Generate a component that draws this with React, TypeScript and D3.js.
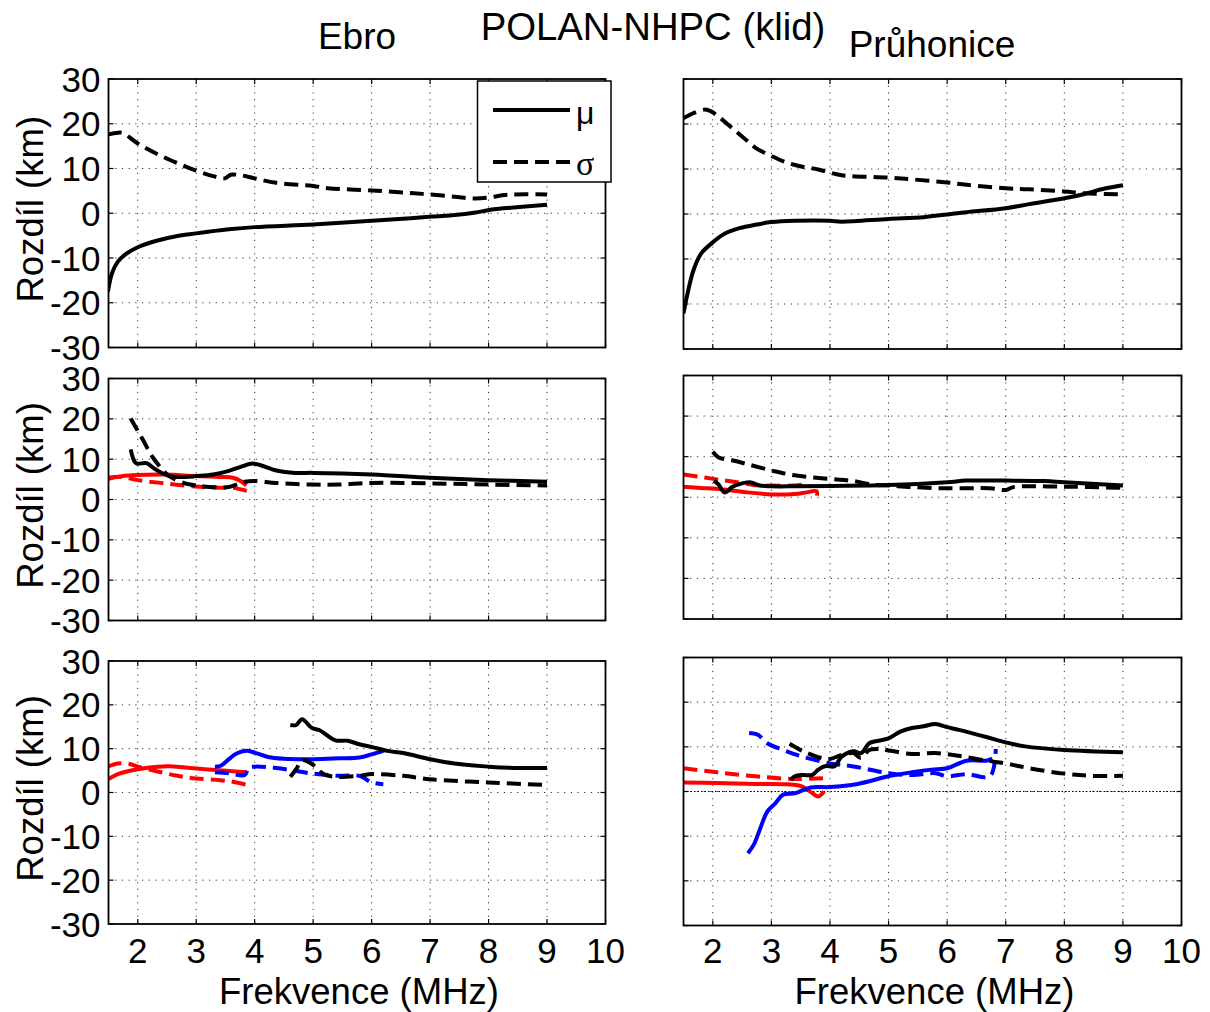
import React from 'react';
import * as d3 from 'd3';

type P = [number, number];

const X_TICKS = [2, 3, 4, 5, 6, 7, 8, 9, 10];
const Y_TICKS = [-30, -20, -10, 0, 10, 20, 30];
const X_DOMAIN: [number, number] = [1.5, 10];
const Y_DOMAIN: [number, number] = [-30, 30];

const TITLE = 'POLAN-NHPC (klid)';
const COL_TITLES = ['Ebro', 'Průhonice'];
const X_LABEL = 'Frekvence (MHz)';
const Y_LABEL = 'Rozdíl (km)';
const LEGEND_LABELS = ['μ', 'σ'];

// ---- Top row ----
const ebroTopMu: P[] = [[1.49, -17.5], [1.56, -13.4], [1.66, -10.8], [1.8, -9.1], [2.0, -7.6], [2.34, -6.1], [2.68, -5.1], [3.0, -4.5], [3.56, -3.6], [4.0, -3.1], [5.0, -2.5], [6.0, -1.7], [6.67, -1.1], [7.08, -0.7], [7.42, -0.4], [7.75, 0.1], [8.09, 0.9], [8.43, 1.3], [9.0, 1.9]];
const ebroTopSigma: P[] = [[1.49, 17.6], [1.66, 18.0], [1.75, 17.9], [2.0, 15.6], [2.34, 13.2], [2.68, 11.2], [3.0, 9.5], [3.29, 8.3], [3.49, 7.8], [3.59, 8.6], [3.76, 8.5], [4.0, 7.8], [4.37, 6.8], [5.0, 6.1], [5.25, 5.6], [6.0, 5.1], [6.67, 4.5], [7.0, 4.2], [7.42, 3.7], [7.75, 3.3], [8.0, 3.5], [8.23, 4.0], [8.43, 4.2], [9.0, 4.2]];
const pruTopMu: P[] = [[1.5, -22.1], [1.57, -17.6], [1.67, -12.5], [1.8, -8.8], [2.0, -6.3], [2.2, -4.4], [2.47, -3.1], [2.73, -2.4], [3.0, -1.8], [3.4, -1.5], [4.0, -1.5], [4.2, -1.7], [5.0, -1.1], [5.6, -0.7], [6.0, -0.1], [6.33, 0.4], [7.0, 1.3], [7.4, 2.2], [8.0, 3.5], [8.33, 4.4], [8.67, 5.6], [9.0, 6.4]];
const pruTopSigma: P[] = [[1.5, 21.3], [1.67, 22.4], [1.87, 23.2], [1.97, 22.8], [2.13, 21.3], [2.33, 19.1], [2.53, 16.9], [2.73, 14.7], [3.0, 12.9], [3.27, 11.4], [3.53, 10.5], [3.8, 9.9], [4.0, 9.2], [4.2, 8.6], [5.0, 8.1], [5.4, 7.7], [6.0, 7.0], [6.33, 6.5], [7.0, 5.7], [7.4, 5.5], [8.0, 5.0], [8.33, 4.6], [9.0, 4.4]];

// ---- Middle row ----
const ebroMidMuBlack: P[] = [[1.88, 12.4], [1.97, 9.0], [2.15, 9.0], [2.3, 7.5], [2.54, 5.8], [2.81, 5.6], [3.0, 5.8], [3.29, 6.2], [3.56, 7.1], [3.76, 8.1], [3.97, 8.9], [4.1, 8.5], [4.37, 7.2], [4.7, 6.6], [5.0, 6.6], [6.0, 6.2], [7.0, 5.4], [8.0, 4.8], [9.0, 4.4]];
const ebroMidSigmaBlack: P[] = [[1.88, 20.1], [1.97, 17.8], [2.1, 14.5], [2.24, 10.8], [2.37, 8.3], [2.54, 5.8], [2.81, 4.0], [3.0, 3.5], [3.22, 3.1], [3.56, 3.1], [3.69, 3.7], [3.83, 4.4], [4.0, 4.6], [4.37, 4.1], [5.0, 3.7], [5.45, 3.7], [6.0, 4.1], [7.0, 4.0], [8.0, 3.7], [9.0, 3.5]];
const ebroMidMuRed: P[] = [[1.49, 5.1], [1.73, 5.8], [2.0, 6.1], [2.47, 6.2], [3.0, 5.8], [3.42, 5.6], [3.63, 5.4], [3.76, 4.6], [3.86, 3.5]];
const ebroMidSigmaRed: P[] = [[1.49, 5.4], [1.73, 5.6], [2.0, 4.8], [2.47, 4.0], [3.0, 3.2], [3.42, 2.9], [3.63, 2.9], [3.76, 2.5], [3.88, 2.1]];
const pruMidMuBlack: P[] = [[2.02, 4.1], [2.1, 3.1], [2.2, 1.2], [2.33, 2.5], [2.47, 3.3], [2.63, 3.7], [2.8, 2.9], [3.0, 2.7], [3.4, 2.7], [4.0, 2.8], [5.0, 3.0], [6.0, 3.7], [6.33, 4.1], [7.0, 4.1], [7.67, 4.0], [8.0, 3.7], [9.0, 2.9]];
const pruMidSigmaBlack: P[] = [[2.0, 11.2], [2.1, 9.8], [2.33, 9.1], [2.6, 8.1], [3.0, 6.6], [3.4, 5.4], [4.0, 4.5], [4.4, 4.0], [4.73, 3.1], [5.0, 2.9], [5.4, 2.5], [6.0, 2.2], [6.73, 2.2], [7.0, 1.8], [7.13, 2.5], [8.0, 2.6], [9.0, 2.3]];
const pruMidMuRed: P[] = [[1.5, 2.6], [1.8, 2.3], [2.07, 2.1], [2.6, 1.2], [3.0, 0.7], [3.4, 0.8], [3.6, 1.2], [3.77, 1.5], [3.78, 0.4]];
const pruMidSigmaRed: P[] = [[1.5, 5.6], [1.8, 5.0], [2.07, 4.4], [2.33, 3.9], [2.67, 3.1], [2.87, 2.9], [3.4, 2.9], [3.53, 3.1]];

// ---- Bottom row ----
const ebroBotMuRed: P[] = [[1.49, 3.0], [1.66, 4.2], [2.0, 5.3], [2.34, 5.9], [2.54, 6.0], [2.81, 5.7], [3.15, 5.3], [3.56, 4.9], [3.86, 4.6]];
const ebroBotSigmaRed: P[] = [[1.49, 5.9], [1.66, 6.6], [1.86, 6.5], [2.0, 5.9], [2.34, 4.8], [2.68, 3.8], [3.0, 3.2], [3.42, 2.8], [3.69, 2.3], [3.88, 1.7]];
const ebroBotMuBlue: P[] = [[3.32, 5.9], [3.42, 6.1], [3.56, 7.6], [3.69, 8.9], [3.86, 9.5], [4.0, 9.1], [4.23, 8.1], [4.5, 7.7], [5.0, 7.6], [5.45, 7.8], [5.79, 8.0], [6.0, 8.7], [6.2, 9.5]];
const ebroBotSigmaBlue: P[] = [[3.32, 4.6], [3.56, 4.4], [3.83, 4.0], [3.9, 5.7], [4.0, 5.9], [4.37, 5.6], [5.0, 4.3], [5.45, 3.8], [5.79, 3.8], [6.0, 2.3], [6.2, 1.9]];
const ebroBotMuBlack: P[] = [[4.61, 15.4], [4.71, 15.4], [4.81, 16.7], [4.98, 14.7], [5.11, 14.2], [5.38, 11.9], [5.59, 11.8], [5.79, 11.0], [6.0, 10.4], [6.27, 9.5], [6.54, 9.0], [7.0, 7.6], [7.42, 6.6], [8.0, 5.9], [8.43, 5.6], [9.0, 5.6]];
const ebroBotSigmaBlack: P[] = [[4.61, 3.6], [4.71, 5.3], [4.81, 7.4], [4.98, 6.5], [5.18, 4.2], [5.38, 3.6], [5.79, 3.8], [6.0, 4.2], [6.54, 3.8], [7.0, 3.0], [8.0, 2.3], [9.0, 1.7]];
const pruBotMuRed: P[] = [[1.5, 2.0], [2.07, 1.9], [2.73, 1.7], [3.27, 1.6], [3.53, 1.1], [3.7, -0.4], [3.8, -1.1], [3.9, 0.0]];
const pruBotSigmaRed: P[] = [[1.5, 5.2], [2.07, 4.3], [2.73, 3.4], [3.4, 2.8], [3.9, 3.0]];
const pruBotMuBlue: P[] = [[2.6, -13.8], [2.7, -11.9], [2.8, -8.6], [2.93, -4.5], [3.07, -2.6], [3.2, -0.7], [3.4, -0.4], [3.67, 0.9], [4.0, 1.0], [4.47, 1.7], [5.0, 3.4], [5.4, 4.3], [5.73, 4.9], [6.0, 5.2], [6.33, 6.9], [6.67, 6.9], [6.77, 7.4]];
const pruBotSigmaBlue: P[] = [[2.62, 13.1], [2.77, 12.7], [2.93, 10.8], [3.2, 9.3], [3.53, 7.8], [4.0, 6.3], [4.4, 5.6], [5.0, 4.1], [5.4, 3.7], [5.8, 4.1], [6.0, 3.4], [6.33, 3.9], [6.73, 3.4], [6.83, 9.5]];
const pruBotMuBlack: P[] = [[3.33, 2.6], [3.4, 3.4], [3.53, 3.7], [3.7, 3.7], [3.8, 4.9], [3.93, 5.7], [4.07, 5.6], [4.2, 7.8], [4.4, 9.0], [4.53, 8.6], [4.67, 10.8], [4.8, 11.3], [5.0, 11.9], [5.2, 13.4], [5.4, 14.2], [5.6, 14.6], [5.8, 15.1], [6.0, 14.4], [6.2, 13.8], [6.67, 12.2], [7.0, 11.0], [7.33, 10.1], [8.0, 9.3], [9.0, 8.8]];
const pruBotSigmaBlack: P[] = [[3.31, 10.7], [3.53, 9.1], [3.8, 7.7], [4.0, 7.3], [4.2, 8.2], [4.4, 8.6], [4.53, 7.5], [4.67, 9.3], [4.87, 9.5], [5.0, 9.2], [5.4, 8.4], [5.8, 8.6], [6.2, 8.0], [6.67, 6.9], [7.0, 6.3], [7.4, 5.2], [8.0, 4.0], [8.47, 3.5], [9.0, 3.5]];
const pruBotZero: P[] = [[1.5, 0], [10, 0]];

type Series = { data: P[]; color: string; dashed?: boolean; dotted?: boolean };
type Panel = { key: string; x0: number; x1: number; y0: number; y1: number; col: number; row: number; series: Series[] };

const BLACK = '#000000';
const RED = '#ff0000';
const BLUE = '#0000ff';

const PANELS: Panel[] = [
  { key: 'TL', x0: 108.5, x1: 605.5, y0: 79, y1: 347.5, col: 0, row: 0, series: [
    { data: ebroTopSigma, color: BLACK, dashed: true },
    { data: ebroTopMu, color: BLACK },
  ] },
  { key: 'TR', x0: 683.5, x1: 1181.5, y0: 79, y1: 349, col: 1, row: 0, series: [
    { data: pruTopSigma, color: BLACK, dashed: true },
    { data: pruTopMu, color: BLACK },
  ] },
  { key: 'ML', x0: 108.5, x1: 605.5, y0: 378.5, y1: 620.5, col: 0, row: 1, series: [
    { data: ebroMidMuRed, color: RED },
    { data: ebroMidSigmaRed, color: RED, dashed: true },
    { data: ebroMidSigmaBlack, color: BLACK, dashed: true },
    { data: ebroMidMuBlack, color: BLACK },
  ] },
  { key: 'MR', x0: 683.5, x1: 1181.5, y0: 375.5, y1: 619, col: 1, row: 1, series: [
    { data: pruMidSigmaRed, color: RED, dashed: true },
    { data: pruMidMuRed, color: RED },
    { data: pruMidSigmaBlack, color: BLACK, dashed: true },
    { data: pruMidMuBlack, color: BLACK },
  ] },
  { key: 'BL', x0: 108.5, x1: 605.5, y0: 661, y1: 924, col: 0, row: 2, series: [
    { data: ebroBotMuRed, color: RED },
    { data: ebroBotSigmaRed, color: RED, dashed: true },
    { data: ebroBotMuBlue, color: BLUE },
    { data: ebroBotSigmaBlue, color: BLUE, dashed: true },
    { data: ebroBotMuBlack, color: BLACK },
    { data: ebroBotSigmaBlack, color: BLACK, dashed: true },
  ] },
  { key: 'BR', x0: 683.5, x1: 1181.5, y0: 657.5, y1: 925.5, col: 1, row: 2, series: [
    { data: pruBotZero, color: BLACK, dotted: true },
    { data: pruBotSigmaRed, color: RED, dashed: true },
    { data: pruBotMuRed, color: RED },
    { data: pruBotMuBlue, color: BLUE },
    { data: pruBotSigmaBlue, color: BLUE, dashed: true },
    { data: pruBotMuBlack, color: BLACK },
    { data: pruBotSigmaBlack, color: BLACK, dashed: true },
  ] },
];

const FONT = '"Liberation Sans", Arial, Helvetica, sans-serif';
const LW = 4;
const DASH = '14,7';

function PanelView({ p }: { p: Panel }) {
  const x = d3.scaleLinear().domain(X_DOMAIN).range([p.x0, p.x1]);
  const y = d3.scaleLinear().domain(Y_DOMAIN).range([p.y1, p.y0]);
  const line = d3.line<P>().x(d => x(d[0])).y(d => y(d[1])).curve(d3.curveCatmullRom.alpha(0.5));
  const straight = d3.line<P>().x(d => x(d[0])).y(d => y(d[1]));
  const clipId = `clip-${p.key}`;
  const tl = 5;
  return (
    <g>
      <defs>
        <clipPath id={clipId}>
          <rect x={p.x0} y={p.y0} width={p.x1 - p.x0} height={p.y1 - p.y0} />
        </clipPath>
      </defs>
      <rect x={p.x0} y={p.y0} width={p.x1 - p.x0} height={p.y1 - p.y0} fill="#fff" />
      <g stroke="#333" strokeWidth={1} strokeDasharray="1.2,5.5" fill="none">
        {X_TICKS.filter(t => t < X_DOMAIN[1]).map(t => (
          <line key={'gx' + t} x1={x(t)} x2={x(t)} y1={p.y0} y2={p.y1} />
        ))}
        {Y_TICKS.filter(t => t > Y_DOMAIN[0] && t < Y_DOMAIN[1]).map(t => (
          <line key={'gy' + t} x1={p.x0} x2={p.x1} y1={y(t)} y2={y(t)} />
        ))}
      </g>
      <g stroke="#000" strokeWidth={1.2}>
        {X_TICKS.map(t => (
          <g key={'tx' + t}>
            <line x1={x(t)} x2={x(t)} y1={p.y1} y2={p.y1 - tl} />
            <line x1={x(t)} x2={x(t)} y1={p.y0} y2={p.y0 + tl} />
          </g>
        ))}
        {Y_TICKS.map(t => (
          <g key={'ty' + t}>
            <line x1={p.x0} x2={p.x0 + tl} y1={y(t)} y2={y(t)} />
            <line x1={p.x1} x2={p.x1 - tl} y1={y(t)} y2={y(t)} />
          </g>
        ))}
      </g>
      <g clipPath={`url(#${clipId})`} fill="none">
        {p.series.map((s, i) => (
          <path
            key={i}
            d={(s.dotted ? straight : line)(s.data) || ''}
            stroke={s.color}
            strokeWidth={s.dotted ? 1.2 : LW}
            strokeDasharray={s.dotted ? '1.5,2' : s.dashed ? DASH : undefined}
            strokeLinejoin="round"
            strokeLinecap="butt"
          />
        ))}
      </g>
      <rect x={p.x0} y={p.y0} width={p.x1 - p.x0} height={p.y1 - p.y0} fill="none" stroke="#000" strokeWidth={1.8} />
      {p.col === 0 && Y_TICKS.map(t => (
        <text key={'ly' + t} x={p.x0 - 8} y={y(t) + 12.5} textAnchor="end" fontSize={35} fontFamily={FONT}>{t}</text>
      ))}
      {p.row === 2 && X_TICKS.map(t => (
        <text key={'lx' + t} x={x(t)} y={963} textAnchor="middle" fontSize={35} fontFamily={FONT}>{t}</text>
      ))}
      {p.col === 0 && (
        <text transform={`translate(43,${(p.y0 + p.y1) / 2 - 4}) rotate(-90)`} textAnchor="middle" fontSize={36.5} fontFamily={FONT}>{Y_LABEL}</text>
      )}
      {p.row === 2 && (
        <text x={(p.x0 + p.x1) / 2 + 2} y={1004} textAnchor="middle" fontSize={36.5} fontFamily={FONT}>{X_LABEL}</text>
      )}
    </g>
  );
}

function Legend() {
  const bx0 = 477.5, bx1 = 611, by0 = 81, by1 = 182;
  return (
    <g>
      <rect x={bx0} y={by0} width={bx1 - bx0} height={by1 - by0} fill="#fff" stroke="#000" strokeWidth={1.5} />
      <line x1={493} x2={570} y1={110} y2={110} stroke="#000" strokeWidth={LW} />
      <line x1={493} x2={570} y1={162} y2={162} stroke="#000" strokeWidth={LW} strokeDasharray={DASH} />
      <text x={576} y={124} fontSize={32} fontFamily={FONT}>{LEGEND_LABELS[0]}</text>
      <text x={576} y={175} fontSize={34} fontFamily={'"Liberation Serif", "Times New Roman", serif'}>{LEGEND_LABELS[1]}</text>
    </g>
  );
}

export default function App() {
  return (
    <svg width={1210} height={1012} viewBox="0 0 1210 1012" style={{ position: 'absolute', left: 0, top: 0, display: 'block', background: '#fff' }}>
      <rect x={0} y={0} width={1210} height={1012} fill="#fff" />
      {PANELS.map(p => <PanelView key={p.key} p={p} />)}
      <Legend />
      <text x={653} y={40} textAnchor="middle" fontSize={38.3} fontFamily={FONT}>{TITLE}</text>
      <text x={357} y={49} textAnchor="middle" fontSize={37} fontFamily={FONT}>{COL_TITLES[0]}</text>
      <text x={932} y={56.5} textAnchor="middle" fontSize={37} fontFamily={FONT}>{COL_TITLES[1]}</text>
    </svg>
  );
}
